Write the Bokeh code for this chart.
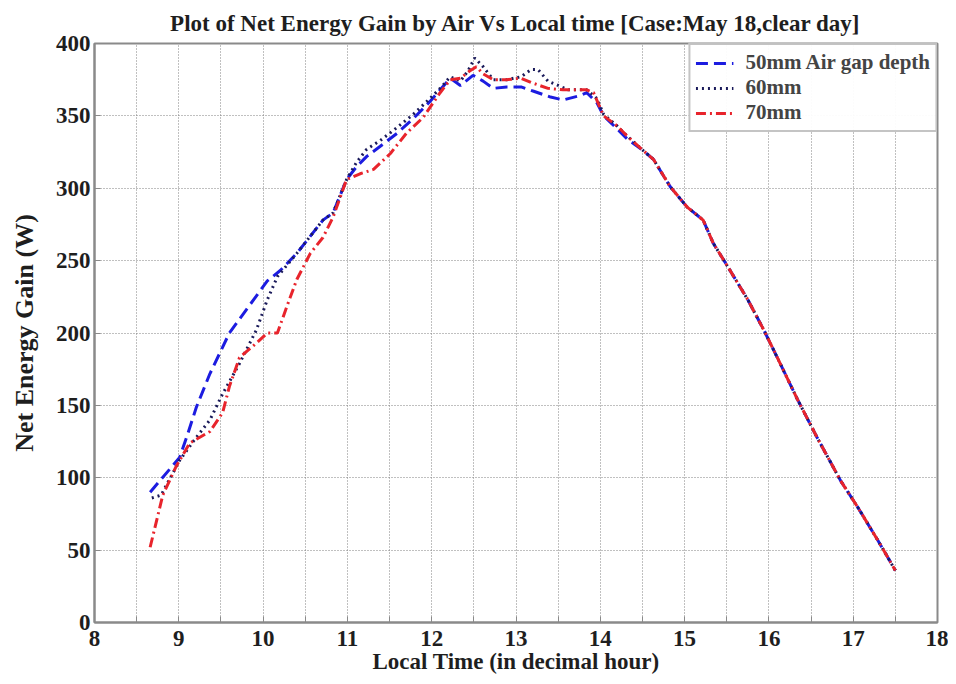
from bokeh.plotting import figure
from bokeh.embed import file_html
from bokeh.resources import INLINE
from bokeh.models import Range1d, FixedTicker

# ---------------- data ----------------
x_50mm = [8.66, 9.01, 9.11, 9.21, 9.37, 9.60, 9.80, 10.05, 10.20, 10.40, 10.71, 10.83,
          10.99, 11.11, 11.23, 11.39, 11.59, 11.78, 11.98, 12.10, 12.22, 12.34, 12.49,
          12.61, 12.73, 12.89, 13.06, 13.21, 13.41, 13.56, 13.76, 13.84, 13.96, 14.04,
          14.20, 14.32, 14.51, 14.63, 14.83, 15.03, 15.22, 15.34, 15.51, 15.75, 15.94,
          16.10, 16.34, 16.57, 16.85, 17.05, 17.29, 17.50]
y_50mm = [90, 114, 131, 149, 172, 200, 216, 236, 243, 255, 278, 283,
          306, 315, 322, 329, 338, 348, 360, 368, 376, 371, 378,
          374, 369, 370, 370, 367, 363, 361, 364, 366, 359, 350,
          341, 334, 326, 320, 301, 287, 278, 262, 246, 223, 202,
          183, 154, 128, 98, 80, 57, 36]

x_60mm = [8.68, 8.79, 9.01, 9.17, 9.37, 9.52, 9.72, 9.92, 10.05, 10.17, 10.40, 10.71,
          10.83, 10.99, 11.11, 11.23, 11.39, 11.59, 11.78, 11.98, 12.10, 12.22, 12.34,
          12.43, 12.51, 12.61, 12.73, 12.89, 13.06, 13.18, 13.26, 13.38, 13.50, 13.62,
          13.84, 13.96, 14.04, 14.20, 14.32, 14.51, 14.63, 14.83, 15.03, 15.22, 15.34,
          15.51, 15.75, 15.94, 16.10, 16.34, 16.57, 16.85, 17.05, 17.29, 17.50]
y_60mm = [86, 88, 112, 125, 140, 158, 179, 202, 223, 239, 255, 278,
          283, 306, 318, 327, 333, 342, 351, 362, 369, 377, 374,
          381, 390, 384, 375, 375, 377, 382, 382, 374, 371, 368,
          368, 362, 351, 343, 336, 326, 320, 301, 287, 278, 262,
          246, 223, 202, 183, 154, 128, 98, 80, 57, 36]

x_70mm = [8.66, 8.81, 8.97, 9.13, 9.37, 9.52, 9.60, 9.72, 9.92, 10.05, 10.17, 10.28,
          10.40, 10.56, 10.71, 10.83, 10.99, 11.15, 11.31, 11.51, 11.70, 11.90, 12.10,
          12.22, 12.34, 12.45, 12.53, 12.61, 12.73, 12.89, 13.06, 13.18, 13.38, 13.56,
          13.84, 13.92, 14.04, 14.20, 14.32, 14.51, 14.63, 14.83, 15.03, 15.22, 15.34,
          15.51, 15.75, 15.94, 16.10, 16.34, 16.57, 16.85, 17.05, 17.29, 17.50]
y_70mm = [52, 88, 108, 124, 132, 145, 163, 183, 193, 200, 200, 218,
          237, 255, 266, 280, 306, 310, 313, 324, 338, 349, 366,
          375, 376, 381, 384, 379, 375, 375, 376, 373, 369, 368,
          368, 366, 350, 343, 336, 326, 320, 301, 287, 278, 262,
          246, 223, 202, 183, 154, 128, 98, 80, 57, 36]

series_labels = ["50mm Air gap depth", "60mm", "70mm"]
x_ticks = list(range(8, 19))
x_minor = [8.5, 9.5, 10.5, 11.5, 12.5, 13.5, 14.5, 15.5, 16.5, 17.5]
y_ticks = list(range(0, 401, 50))

TITLE = "Plot of Net Energy Gain by Air Vs Local time [Case:May 18,clear day]"
X_LABEL = "Local Time (in decimal hour)"
Y_LABEL = "Net Energy Gain (W)"

FONT = "Liberation Serif"
GRAY = "#8a8a8a"
TXT = "#1e1e1e"

p = figure(width=948, height=682, output_backend="svg", toolbar_location=None,
           x_range=Range1d(8, 18), y_range=Range1d(0, 400), title=TITLE,
           min_border_left=94, min_border_right=11, min_border_top=43,
           min_border_bottom=60)

p.title.text_font = FONT
p.title.text_font_style = "bold"
p.title.text_font_size = "23px"
p.title.align = "center"
p.title.text_color = TXT
p.title.standoff = 15

p.line(x_50mm, y_50mm, color="#1c1ce0", line_width=3, line_dash="12 6",
       legend_label=series_labels[0])
p.line(x_60mm, y_60mm, color="#1a1a5a", line_width=3, line_dash="2 4",
       legend_label=series_labels[1])
p.line(x_70mm, y_70mm, color="#e8242c", line_width=3, line_dash="10 4 2 4",
       legend_label=series_labels[2])

# axes
for ax in (p.xaxis[0], p.yaxis[0]):
    ax.axis_line_color = GRAY
    ax.axis_line_width = 2
    ax.major_tick_line_color = GRAY
    ax.minor_tick_line_color = GRAY
    ax.major_tick_in = 6
    ax.major_tick_out = 0
    ax.minor_tick_in = 0
    ax.minor_tick_out = 0
    ax.major_label_text_font = FONT
    ax.major_label_text_font_style = "bold"
    ax.major_label_text_font_size = "23px"
    ax.major_label_text_color = TXT
    ax.axis_label_text_font = FONT
    ax.axis_label_text_font_style = "bold"
    ax.axis_label_text_color = TXT

p.xaxis.minor_tick_in = 6
p.xaxis.major_label_standoff = 8
p.xaxis.axis_label_standoff = 0
p.xaxis.axis_label_text_font_size = "23px"
p.yaxis.major_label_standoff = 4
p.yaxis.axis_label_standoff = 14
p.yaxis.axis_label_text_font_size = "26px"

p.xaxis.ticker = FixedTicker(ticks=x_ticks, minor_ticks=x_minor)
p.yaxis.ticker = FixedTicker(ticks=y_ticks)
p.xaxis.axis_label = X_LABEL
p.yaxis.axis_label = Y_LABEL

# grid
p.xgrid.ticker = FixedTicker(ticks=x_ticks, minor_ticks=x_minor)
p.ygrid.ticker = FixedTicker(ticks=y_ticks)
for g in (p.xgrid[0], p.ygrid[0]):
    g.grid_line_color = "#808080"
    g.grid_line_dash = "1 2"
    g.grid_line_width = 1
p.xgrid.minor_grid_line_color = "#808080"
p.xgrid.minor_grid_line_dash = "1 2"
p.xgrid.minor_grid_line_width = 1

p.outline_line_color = GRAY
p.outline_line_width = 2

# legend
lg = p.legend[0]
lg.location = "top_right"
lg.margin = 0
lg.padding = 5
lg.spacing = 0
lg.border_line_color = GRAY
lg.border_line_width = 2
lg.label_text_font = FONT
lg.label_text_font_style = "bold"
lg.label_text_font_size = "21px"
lg.label_height = 22
lg.glyph_width = 38
lg.glyph_height = 22
lg.label_standoff = 12

open("out.html", "w").write(file_html(p, INLINE))
